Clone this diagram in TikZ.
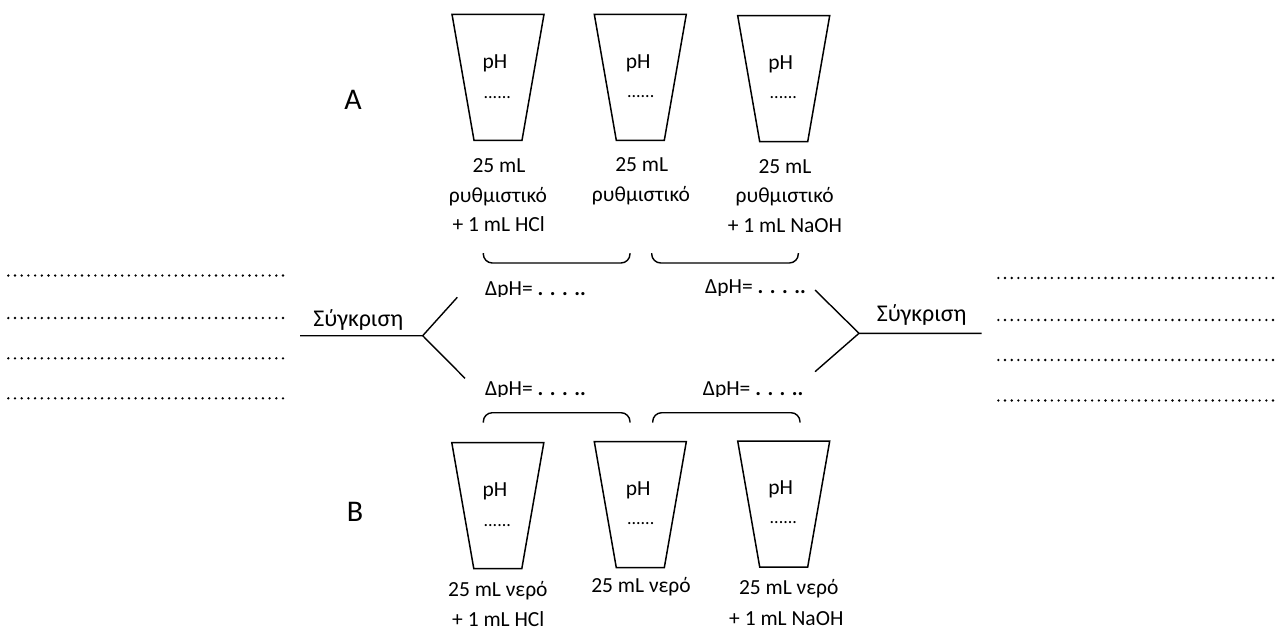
\documentclass[tikz,border=0pt]{standalone}
\usepackage{fontspec}
\setmainfont{Carlito}
\begin{document}
\begin{tikzpicture}[x=1pt,y=-1pt]
\useasboundingbox (0,0) rectangle (1277,629);
\tikzset{
 cupline/.style={line width=1.5pt, line join=miter},
 cup/.pic={\draw[cupline] (-46,0) -- (46,0) -- (24,126) -- (-24,126) -- cycle;},
 lbl/.style={font=\fontsize{21.5}{30}\selectfont, anchor=base, inner sep=0pt},
 cmp/.style={font=\fontsize{24}{30}\selectfont, anchor=base, inner sep=0pt},
 dotl/.style={font=\fontsize{18}{20}\selectfont, anchor=base, inner sep=0pt},
 big/.style={font=\fontsize{30}{36}\selectfont, anchor=base, inner sep=0pt},
 dphl/.style={font=\fontsize{21.5}{30}\selectfont, anchor=base west, inner sep=0pt},
 brace/.style={line width=1.4pt, rounded corners=9pt},
 branch/.style={line width=1.4pt},
 dotline/.style={line width=2.6pt, line cap=round, dash pattern=on 0pt off 6.7pt},
}
\newcommand\dphtext{ΔpH=\ {\bfseries . . . ..}}
% cups A
\pic (cupA1) at (498,14.3) {cup};
\pic (cupA2) at (640.3,14.3) {cup};
\pic (cupA3) at (783.7,15.7) {cup};
\node[lbl] (phA1) at (495,68.3) {pH};
\node[dotl] (dA1) at (497.3,98.3) {......};
\node[lbl] (phA2) at (638.3,68.3) {pH};
\node[dotl] (dA2) at (640.7,97.7) {......};
\node[lbl] (phA3) at (780.7,69) {pH};
\node[dotl] (dA3) at (783.3,98.7) {......};
\node[big] (A) at (353,109.3) {A};
% labels A
\node[lbl] (lA1a) at (499,172.7) {25 mL};
\node[lbl] (lA1b) at (498,202.7) {ρυθμιστικό};
\node[lbl] (lA1c) at (498.7,231.7) {+ 1 mL HCl};
\node[lbl] (lA2a) at (641.7,171.7) {25 mL};
\node[lbl] (lA2b) at (641,201.7) {ρυθμιστικό};
\node[lbl] (lA3a) at (785,173.3) {25 mL};
\node[lbl] (lA3b) at (784.7,202.7) {ρυθμιστικό};
\node[lbl] (lA3c) at (785,232.3) {+ 1 mL NaOH};
% braces A
\draw[brace] (483.3,253) -- (483.3,263) -- (630,263) -- (630,253);
\draw[brace] (651.7,253) -- (651.7,263) -- (798.3,263) -- (798.3,253);
% delta pH labels
\begin{scope}
\clip (470,270) rectangle (600,296.5);
\node[dphl] (dph1) at (485,295) {\dphtext};
\end{scope}
\begin{scope}
\clip (690,268) rectangle (820,295);
\node[dphl] (dph2) at (705,293.5) {\dphtext};
\end{scope}
\begin{scope}
\clip (470,370) rectangle (600,396.5);
\node[dphl] (dph3) at (485,395) {\dphtext};
\end{scope}
\begin{scope}
\clip (690,370) rectangle (820,396.5);
\node[dphl] (dph4) at (702.7,395) {\dphtext};
\end{scope}
% braces B
\draw[brace] (483.3,422.7) -- (483.3,412.7) -- (630,412.7) -- (630,422.7);
\draw[brace] (652.7,422.7) -- (652.7,412.7) -- (800,412.7) -- (800,422.7);
% cups B
\pic (cupB1) at (497.8,442.7) {cup};
\pic (cupB2) at (640.3,441.7) {cup};
\pic (cupB3) at (783.7,441) {cup};
\node[lbl] (phB1) at (495,496) {pH};
\node[dotl] (dB1) at (497.3,526) {......};
\node[lbl] (phB2) at (638.3,495) {pH};
\node[dotl] (dB2) at (640.7,524.3) {......};
\node[lbl] (phB3) at (780.7,494.3) {pH};
\node[dotl] (dB3) at (783.3,523.3) {......};
\node[big] (B) at (355,521.7) {B};
\node[lbl] (lB1a) at (497.8,596.7) {25 mL νερό};
\node[lbl] (lB1b) at (498.3,626) {+ 1 mL HCl};
\node[lbl] (lB2a) at (641,592.7) {25 mL νερό};
\node[lbl] (lB3a) at (788.7,594) {25 mL νερό};
\node[lbl] (lB3b) at (786.3,625) {+ 1 mL NaOH};
% left comparison
\coordinate (jL) at (422.7,335.7);
\coordinate (hL) at (300,335.7);
\coordinate (uL) at (457.3,297.3);
\coordinate (bL) at (465,378.3);
\draw[branch] (hL) -- (jL) -- (uL);
\draw[branch] (jL) -- (bL);
\node[cmp] (sL) at (358.3,326) {Σύγκριση};
% right comparison
\coordinate (jR) at (859,333.3);
\coordinate (hR) at (981.7,333.3);
\coordinate (uR) at (815,290);
\coordinate (bR) at (815,371.7);
\draw[branch] (hR) -- (jR) -- (uR);
\draw[branch] (jR) -- (bR);
\node[cmp] (sR) at (921.7,321.7) {Σύγκριση};
% dotted answer lines
\foreach \yy in {275.5,318,358.3,398.3} \draw[dotline] (8.3,\yy) -- (288.5,\yy);
\foreach \yy in {278,320,360,400.5} \draw[dotline] (998.3,\yy) -- (1280,\yy);
\end{tikzpicture}
\end{document}
